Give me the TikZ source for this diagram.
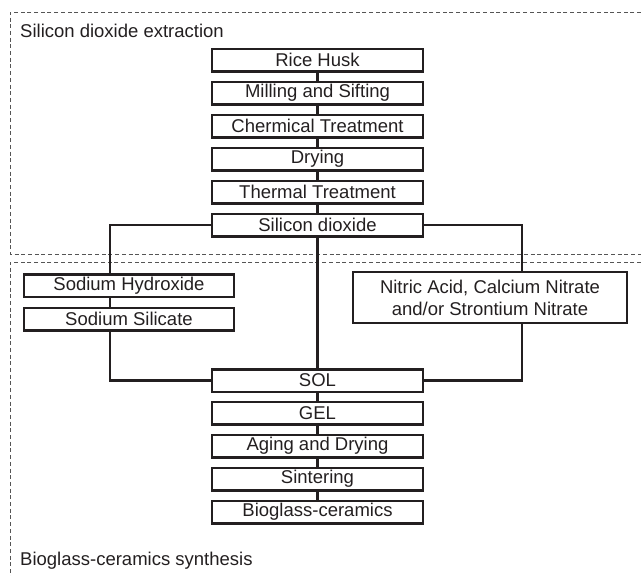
\documentclass[tikz,border=0pt]{standalone}
\usepackage{fontspec}
\setmainfont{Liberation Sans}
\begin{document}
\begin{tikzpicture}[x=1pt,y=-1pt,
  font=\fontsize{18.5}{22}\selectfont,
  stepbox/.style={draw=boxcol,line width=2.5pt,rectangle,inner sep=0pt,minimum width=211pt,minimum height=22.5pt,text=boxcol},
  conn/.style={draw=boxcol,line width=2.5pt},
  grp/.style={draw=dashcol,line width=0.9pt,dash pattern=on 4pt off 2.7pt},
  lbl/.style={anchor=base west,inner sep=0pt,text=boxcol}]
\definecolor{boxcol}{HTML}{231F20}
\definecolor{dashcol}{HTML}{555555}
\useasboundingbox (0,0) rectangle (641,576);
% group frames
\draw[grp] (641,12) -- (10,12) -- (10,254) -- (641,254);
\draw[grp] (641,262) -- (10,262) -- (10,576);
\node[lbl] (lab1) at (20,37) {Silicon dioxide extraction};
\node[lbl] (lab2) at (20,565) {Bioglass-ceramics synthesis};
% main column
\node[stepbox] (rh) at (317.5,60) {Rice Husk};
\node[stepbox] (ms) at (317.5,93) {Milling and Sifting};
\node[stepbox] (ct) at (317.5,126) {Chermical Treatment};
\node[stepbox] (dr) at (317.5,159) {Drying};
\node[stepbox] (tt) at (317.5,192) {Thermal Treatment};
\node[stepbox] (si) at (317.5,225) {Silicon dioxide};
\node[stepbox] (sol) at (317.5,380.5) {SOL};
\node[stepbox] (gel) at (317.5,413) {GEL};
\node[stepbox] (ad) at (317.5,446) {Aging and Drying};
\node[stepbox] (sin) at (317.5,479) {Sintering};
\node[stepbox] (bc) at (317.5,512) {Bioglass-ceramics};
% side boxes
\node[stepbox,minimum width=210pt] (nah) at (129,285.5) {Sodium Hydroxide};
\node[stepbox,minimum width=210pt] (nas) at (129,319) {Sodium Silicate};
\node[stepbox,minimum width=274pt,minimum height=51pt,align=center] (ni) at (490,297.5) {Nitric Acid, Calcium Nitrate\\and/or Strontium Nitrate};
\coordinate (lx) at (110,0);
\coordinate (rx) at (522,0);
% connectors
\draw[conn] (rh) -- (ms);
\draw[conn] (ms) -- (ct);
\draw[conn] (ct) -- (dr);
\draw[conn] (dr) -- (tt);
\draw[conn] (tt) -- (si);
\draw[conn] (si) -- (sol);
\draw[conn] (sol) -- (gel);
\draw[conn] (gel) -- (ad);
\draw[conn] (ad) -- (sin);
\draw[conn] (sin) -- (bc);
\draw[conn] (si.west) -| (nah.north -| lx);
\draw[conn] (nah.south -| lx) -- (nas.north -| lx);
\draw[conn] (nas.south -| lx) |- (sol.west);
\draw[conn] (si.east) -| (ni.north -| rx);
\draw[conn] (ni.south -| rx) |- (sol.east);
\end{tikzpicture}
\end{document}
